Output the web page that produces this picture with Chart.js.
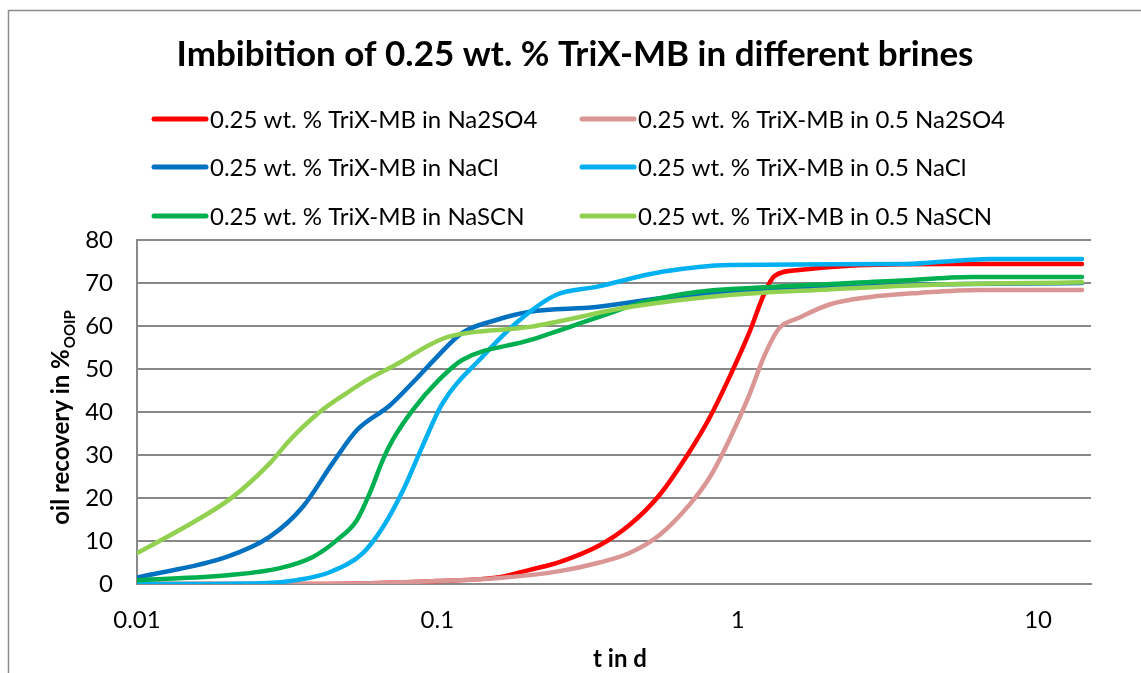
<!DOCTYPE html>
<html>
<head>
<meta charset="utf-8">
<script src="https://cdn.jsdelivr.net/npm/chart.js@4/dist/chart.umd.min.js"></script>
<style>
  html, body { margin: 0; padding: 0; background: #fff; }
  #wrap { width: 1141px; height: 673px; position: relative; }
</style>
</head>
<body>
<div id="wrap"><canvas id="c" width="1141" height="673"></canvas></div>
<script>
// Imbibition time (days) and oil recovery (% OOIP) for each brine
const na2so4T   = [0.01, 0.03, 0.06, 0.1, 0.161, 0.203, 0.255, 0.347, 0.436, 0.549, 0.69, 0.805, 0.937, 1.093, 1.225, 1.324, 1.6, 2.35, 5.06, 14];
const na2so4V   = [0, 0, 0.2, 0.7, 1.6, 3.3, 5.1, 9, 13.7, 20.7, 30.7, 38.6, 48, 58.5, 67.5, 71.6, 73, 74, 74.4, 74.4];

const na2so405T = [0.01, 0.03, 0.06, 0.1, 0.161, 0.255, 0.347, 0.436, 0.549, 0.69, 0.805, 0.937, 1.093, 1.225, 1.375, 1.6, 2.02, 2.74, 4.02, 6.36, 14];
const na2so405V = [0, 0, 0.2, 0.7, 1.4, 3, 5, 7.2, 11.4, 18.4, 24.7, 33.5, 44, 53, 59.5, 61.9, 65, 66.7, 67.7, 68.4, 68.4];

const naclT     = [0.01, 0.0199, 0.0277, 0.0356, 0.0448, 0.054, 0.0694, 0.0853, 0.099, 0.121, 0.157, 0.203, 0.338, 0.56, 1.09, 3.4, 14];
const naclV     = [1.5, 6.3, 11, 17.9, 28.1, 35.8, 41.5, 47.8, 52.6, 58.4, 61.4, 63.3, 64.4, 66.5, 68, 69.5, 70];

const nacl05T   = [0.01, 0.0262, 0.034, 0.044, 0.0565, 0.066, 0.077, 0.089, 0.104, 0.141, 0.183, 0.248, 0.338, 0.56, 0.94, 3.5, 7, 14];
const nacl05V   = [0, 0.2, 0.9, 2.8, 7.2, 13.3, 21.9, 31.9, 42, 52.8, 60.7, 67.2, 69.1, 72.6, 74.2, 74.4, 75.6, 75.6];

const nascnT    = [0.01, 0.0204, 0.0299, 0.0385, 0.0463, 0.054, 0.0596, 0.0658, 0.071, 0.0829, 0.101, 0.121, 0.203, 0.338, 0.49, 0.73, 1.07, 3.4, 6, 14];
const nascnV    = [0.9, 2.1, 3.7, 6.3, 10.2, 14.9, 21.2, 28.8, 33.5, 40.5, 47.4, 52.1, 56.7, 61.9, 65.6, 67.9, 68.8, 70.5, 71.4, 71.4];

const nascn05T  = [0.01, 0.0139, 0.0208, 0.0277, 0.0323, 0.0406, 0.0499, 0.0582, 0.075, 0.094, 0.11, 0.203, 0.436, 0.937, 2, 4, 14];
const nascn05V  = [7.2, 12.6, 20.2, 28.1, 33.5, 40, 44.4, 47.4, 51.5, 55.6, 57.6, 59.8, 64.4, 67.2, 68.5, 69.5, 70.2];

const seriesLabels = [
  '0.25 wt. % TriX-MB in Na2SO4',
  '0.25 wt. % TriX-MB in 0.5 Na2SO4',
  '0.25 wt. % TriX-MB in NaCl',
  '0.25 wt. % TriX-MB in 0.5 NaCl',
  '0.25 wt. % TriX-MB in NaSCN',
  '0.25 wt. % TriX-MB in 0.5 NaSCN'
];
const seriesColors = ['#FF0000', '#D99694', '#0070C0', '#00B0F0', '#00B050', '#92D050'];
const seriesTimes  = [na2so4T, na2so405T, naclT, nacl05T, nascnT, nascn05T];
const seriesValues = [na2so4V, na2so405V, naclV, nacl05V, nascnV, nascn05V];

const xTickValues = [0.01, 0.1, 1, 10];
const chartTitle = 'Imbibition of 0.25 wt. % TriX-MB in different brines';
const xTitle = 't in d';
const yTitleMain = 'oil recovery in %';
const yTitleSub = 'OOIP';

const FONT = 'Lato, "Open Sans", sans-serif';
const GRID = '#898989';

const datasets = seriesLabels.map((label, i) => ({
  label,
  data: seriesTimes[i].map((t, k) => ({ x: t, y: seriesValues[i][k] })),
  borderColor: seriesColors[i],
  backgroundColor: seriesColors[i],
  borderWidth: 4.5,
  pointRadius: 0,
  pointHoverRadius: 0,
  cubicInterpolationMode: 'monotone',
  borderCapStyle: 'round',
  borderJoinStyle: 'round',
  fill: false,
  order: -i            // later series drawn on top
}));

// Frame, title, legend and axis titles
const decorations = {
  id: 'decorations',
  beforeDraw(chart) {
    const ctx = chart.ctx;
    ctx.save();
    ctx.fillStyle = '#fff';
    ctx.fillRect(0, 0, chart.width, chart.height);
    ctx.strokeStyle = '#8c8c8c';
    ctx.lineWidth = 1.5;
    ctx.beginPath();
    ctx.moveTo(8.5, chart.height + 2);
    ctx.lineTo(8.5, 10.5);
    ctx.lineTo(chart.width + 2, 10.5);
    ctx.stroke();
    ctx.restore();
  },
  afterDraw(chart) {
    const ctx = chart.ctx;
    const area = chart.chartArea;
    ctx.save();
    ctx.fillStyle = '#000';

    // title
    ctx.font = 'bold 35px ' + FONT;
    ctx.textAlign = 'center';
    ctx.textBaseline = 'middle';
    ctx.fillText(chartTitle, 575, 55);

    // legend: two columns, three rows
    const colX = [152, 580];
    const rowY = [119, 167, 216];
    ctx.font = '24px ' + FONT;
    ctx.textAlign = 'left';
    chart.data.datasets.forEach((ds, i) => {
      const x = colX[i % 2];
      const y = rowY[Math.floor(i / 2)];
      ctx.strokeStyle = ds.borderColor;
      ctx.lineWidth = 5;
      ctx.lineCap = 'round';
      ctx.beginPath();
      ctx.moveTo(x + 2, y);
      ctx.lineTo(x + 54, y);
      ctx.stroke();
      ctx.fillStyle = '#000';
      ctx.fillText(ds.label, x + 58, y + 1);
    });

    // x-axis title
    ctx.font = 'bold 24px ' + FONT;
    ctx.textAlign = 'center';
    ctx.fillText(xTitle, (area.left + area.right) / 2 + 6, 659);

    // y-axis title with subscript
    ctx.translate(61, 418);
    ctx.rotate(-Math.PI / 2);
    ctx.font = 'bold 24px ' + FONT;
    const wMain = ctx.measureText(yTitleMain).width;
    ctx.font = 'bold 15px ' + FONT;
    const wSub = ctx.measureText(yTitleSub).width;
    const start = -(wMain + wSub) / 2;
    ctx.textAlign = 'left';
    ctx.textBaseline = 'alphabetic';
    ctx.font = 'bold 24px ' + FONT;
    ctx.fillText(yTitleMain, start, 8);
    ctx.font = 'bold 15px ' + FONT;
    ctx.fillText(yTitleSub, start + wMain + 1, 14);
    ctx.restore();
  }
};

new Chart(document.getElementById('c'), {
  type: 'line',
  data: { datasets },
  plugins: [decorations],
  options: {
    responsive: false,
    devicePixelRatio: 1,
    animation: false,
    events: [],
    layout: { padding: { top: 240, right: 50, left: 0, bottom: 0 } },
    plugins: {
      legend: { display: false },
      title: { display: false },
      tooltip: { enabled: false }
    },
    scales: {
      x: {
        type: 'logarithmic',
        min: 0.01,
        max: 15,
        afterBuildTicks(scale) {
          scale.ticks = xTickValues.map(v => ({ value: v }));
        },
        afterFit(scale) { scale.height = 89; },
        grid: { display: false, drawTicks: false },
        border: { display: true, color: GRID, width: 2 },
        ticks: {
          color: '#000',
          font: { family: FONT, size: 24 },
          padding: 22,
          maxRotation: 0,
          autoSkip: false,
          callback: (v) => String(v)
        }
      },
      y: {
        min: 0,
        max: 80,
        afterFit(scale) { scale.width = 137; },
        grid: { color: GRID, lineWidth: 2, drawTicks: false },
        border: { display: true, color: GRID, width: 2 },
        ticks: {
          stepSize: 10,
          color: '#000',
          font: { family: FONT, size: 24 },
          padding: 24
        }
      }
    }
  }
});
</script>
</body>
</html>
